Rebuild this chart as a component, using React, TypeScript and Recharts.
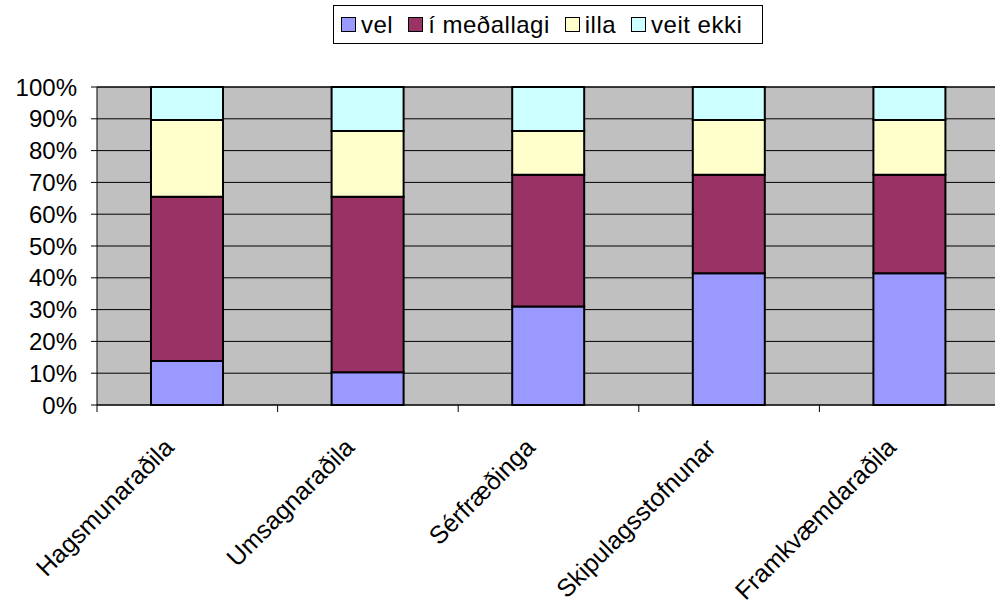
import React from 'react';
import { BarChart, Bar, XAxis, YAxis, CartesianGrid } from 'recharts';

// Survey answers per group (percent of respondents)
const categories = ['Hagsmunaraðila', 'Umsagnaraðila', 'Sérfræðinga', 'Skipulagsstofnunar', 'Framkvæmdaraðila'];
const vel = [13.8, 10.3, 31.0, 41.4, 41.4];
const medallagi = [51.7, 55.2, 41.4, 31.0, 31.0];
const illa = [24.1, 20.7, 13.8, 17.2, 17.2];
const veitEkki = [10.4, 13.8, 13.8, 10.4, 10.4];
const yTicks = [0, 10, 20, 30, 40, 50, 60, 70, 80, 90, 100];

const series = [
  { key: 'vel', label: 'vel', color: '#9999FF' },
  { key: 'medallagi', label: 'í meðallagi', color: '#993366' },
  { key: 'illa', label: 'illa', color: '#FFFFCC' },
  { key: 'veitEkki', label: 'veit ekki', color: '#CCFFFF' },
];

const data = categories.map((name, i) => ({
  name,
  vel: vel[i],
  medallagi: medallagi[i],
  illa: illa[i],
  veitEkki: veitEkki[i],
}));

const FONT = '"Liberation Sans", Arial, sans-serif';

// Excel puts the category ticks between the groups, so draw them at the band edges
function CategoryTick(props: any) {
  const { x, y, payload, index, visibleTicksCount } = props;
  const half = payload.offset || 0;
  const px = x - 12;
  const py = y + 44;
  return (
    <g>
      <line x1={x - half} y1={y} x2={x - half} y2={y + 7} stroke="#000" />
      {index === visibleTicksCount - 1 && (
        <line x1={x + half} y1={y} x2={x + half} y2={y + 7} stroke="#000" />
      )}
      <text
        x={px}
        y={py}
        textAnchor="end"
        fontSize={25}
        fontFamily={FONT}
        fill="#000"
        transform={`rotate(-45, ${px}, ${py})`}
      >
        {payload.value}
      </text>
    </g>
  );
}

function LegendBox() {
  return (
    <div
      style={{
        position: 'absolute',
        left: 333,
        top: 5,
        width: 430,
        height: 39,
        border: '1px solid #000',
        background: '#fff',
        display: 'flex',
        alignItems: 'center',
        paddingLeft: 7,
        boxSizing: 'border-box',
        fontFamily: FONT,
        fontSize: 24,
        letterSpacing: 0.5,
        color: '#000',
      }}
    >
      {series.map((s) => (
        <div key={s.key} style={{ display: 'flex', alignItems: 'center', marginRight: 15 }}>
          <span
            style={{
              display: 'inline-block',
              width: 13,
              height: 13,
              background: s.color,
              border: '1.5px solid #000',
              marginRight: 5,
            }}
          />
          <span style={{ whiteSpace: 'nowrap' }}>{s.label}</span>
        </div>
      ))}
    </div>
  );
}

export default function App() {
  return (
    <div
      style={{
        position: 'absolute',
        left: 0,
        top: 0,
        width: 995,
        height: 606,
        overflow: 'hidden',
        background: '#fff',
      }}
    >
      <BarChart
        width={1002}
        height={606}
        data={data}
        margin={{ top: 87, right: 2, left: 0, bottom: 0 }}
        barCategoryGap={0}
      >
        <CartesianGrid vertical={false} stroke="#000" fill="#C0C0C0" fillOpacity={1} />
        <XAxis
          dataKey="name"
          height={201}
          axisLine={{ stroke: '#000' }}
          tickLine={false}
          tickSize={0}
          tickMargin={0}
          interval={0}
          tick={<CategoryTick />}
        />
        <YAxis
          type="number"
          domain={[0, 100]}
          ticks={yTicks}
          interval={0}
          width={97}
          axisLine={{ stroke: '#000' }}
          tickLine={{ stroke: '#000' }}
          tickSize={6}
          tickMargin={14}
          tickFormatter={(v: number) => `${v}%`}
          tick={{ fill: '#000', fontSize: 24, fontFamily: FONT }}
        />
        {series.map((s) => (
          <Bar
            key={s.key}
            dataKey={s.key}
            stackId="a"
            fill={s.color}
            stroke="#000"
            strokeWidth={2}
            barSize={72}
            isAnimationActive={false}
          />
        ))}
      </BarChart>
      <LegendBox />
    </div>
  );
}
